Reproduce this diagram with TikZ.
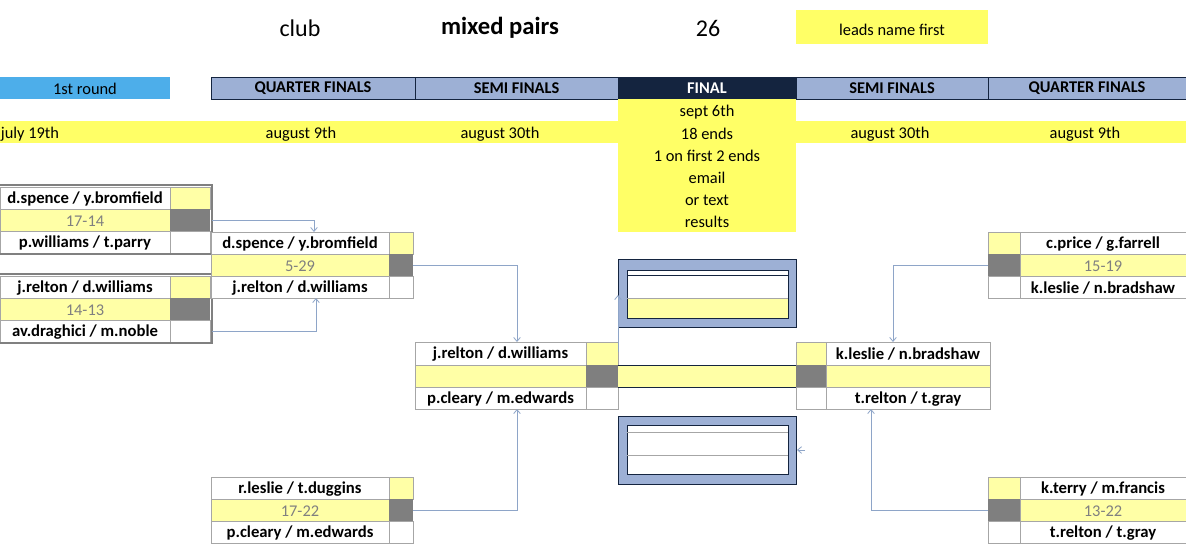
\documentclass[tikz,border=0pt]{standalone}
\usepackage{fontspec}
\setmainfont{Carlito}
\usetikzlibrary{arrows.meta,calc}
\definecolor{ylw}{HTML}{FFFFA6}
\definecolor{bylw}{HTML}{FFFF66}
\definecolor{hdr}{HTML}{9DB0D5}
\definecolor{navy}{HTML}{14243F}
\definecolor{sky}{HTML}{4DAEEA}
\definecolor{dgray}{HTML}{7F7F7F}
\definecolor{conn}{HTML}{8EA5C8}
\newcommand{\nm}{\fontsize{12.5}{14}\selectfont\bfseries}
\newcommand{\tx}{\fontsize{12.3}{14}\selectfont}
\newcommand{\cel}[7]{\path[fill=#6,draw=gray!70,line width=0.5pt] (#2,#3) rectangle (#4,#5);
 \node[font=\nm,inner sep=0] (#1) at ($(#2,#3)!0.5!(#4,#5)+(0,1)$) {#7};}
\begin{document}
\begin{tikzpicture}[x=0.75pt,y=-0.75pt,
 hd/.style={font=\tx\bfseries,inner sep=0},
 sc/.style={font=\tx,text=gray},
 cn/.style={draw=conn,line width=0.6pt},
 ar/.style={cn,-{Straight Barb[length=3pt,width=5pt]}}]
\useasboundingbox (0,0) rectangle (1186,544);
\fill[white] (0,0) rectangle (1186,544);
% title
\node[font=\fontsize{18}{20}\selectfont] (club) at (300,28) {club};
\node[font=\fontsize{18.5}{20}\selectfont\bfseries] (mp) at (500,28) {mixed pairs};
\node[font=\fontsize{18}{20}\selectfont] (num) at (708,28) {26};
\fill[bylw] (796,10) rectangle (988,44);
\node[font=\tx] (lead) at (892,30) {leads name first};
% header row
\fill[sky] (0,77) rectangle (170,99);
\node[font=\tx] (r1) at (85,89) {1st round};
\foreach \a/\b/\t/\n in {211/415/QUARTER FINALS/h1,415/618/SEMI FINALS/h2,796/988/SEMI FINALS/h4,988/1186/QUARTER FINALS/h5}{
 \path[fill=hdr,draw=navy,line width=0.5pt] (\a,77) rectangle (\b,99);
 \node[hd] (\n) at ({(\a+\b)/2},88) {\t};}
\path[fill=navy,draw=navy] (618,77) rectangle (796,99);
\node[hd,text=white] (h3) at (707,88) {FINAL};
% dates
\fill[bylw] (0,121) rectangle (1186,143);
\fill[bylw] (618,99) rectangle (796,232);
\foreach \x/\t/\n in {30/july 19th/d1,301/august 9th/d2,500/august 30th/d3,890/august 30th/d4,1085/august 9th/d5}
 \node[font=\tx] (\n) at (\x,134) {\t};
\foreach \y/\t [count=\i] in {112/sept 6th,134/18 ends,156/1 on first 2 ends,178/email,200/or text,222/results}
 \node[font=\tx] (f\i) at (707,\y) {\t};
% left round 1
\cel{a1}{0}{187}{170}{209}{white}{d.spence / y.bromfield}
\path[fill=ylw,draw=gray!70] (170,187) rectangle (210,209);
\path[fill=ylw,draw=gray!70] (0,209) rectangle (170,231);
\node[sc] (as) at (85,221) {17-14};
\path[fill=dgray] (170,209) rectangle (210,231);
\cel{a2}{0}{231}{170}{253}{white}{p.williams / t.parry}
\path[draw=gray!70] (170,231) rectangle (210,253);
\draw[gray,line width=0.8pt] (0,185) -- (212,185) -- (212,254) -- (0,254);
\cel{b1}{0}{276}{170}{298}{white}{j.relton / d.williams}
\path[fill=ylw,draw=gray!70] (170,276) rectangle (210,298);
\path[fill=ylw,draw=gray!70] (0,298) rectangle (170,320);
\node[sc] (bs) at (85,310) {14-13};
\path[fill=dgray] (170,298) rectangle (210,320);
\cel{b2}{0}{320}{170}{342}{white}{av.draghici / m.noble}
\path[draw=gray!70] (170,320) rectangle (210,342);
\draw[gray,line width=0.8pt] (0,274) -- (212,274) -- (212,343) -- (0,343);
% QF left top
\cel{c1}{211}{232}{389}{254}{white}{d.spence / y.bromfield}
\path[fill=ylw,draw=gray!70] (389,232) rectangle (413,254);
\path[fill=ylw,draw=gray!70] (211,254) rectangle (389,276);
\node[sc] (cs) at (300,266) {5-29};
\path[fill=dgray] (389,254) rectangle (413,276);
\cel{c2}{211}{276}{389}{298}{white}{j.relton / d.williams}
\path[draw=gray!70] (389,276) rectangle (413,298);
% QF left bottom
\cel{e1}{211}{477}{389}{499}{white}{r.leslie / t.duggins}
\path[fill=ylw,draw=gray!70] (389,477) rectangle (413,499);
\path[fill=ylw,draw=gray!70] (211,499) rectangle (389,521);
\node[sc] (es) at (300,511) {17-22};
\path[fill=dgray] (389,499) rectangle (413,521);
\cel{e2}{211}{521}{389}{543}{white}{p.cleary / m.edwards}
\path[draw=gray!70] (389,521) rectangle (413,543);
% SF left
\cel{g1}{415}{342}{586}{365}{white}{j.relton / d.williams}
\path[fill=ylw,draw=gray!70] (586,342) rectangle (618,365);
\path[fill=ylw,draw=gray!70] (415,365) rectangle (586,387);
\path[fill=dgray] (586,365) rectangle (618,387);
\cel{g2}{415}{387}{586}{409}{white}{p.cleary / m.edwards}
\path[draw=gray!70] (586,387) rectangle (618,409);
% final stripe
\fill[ylw] (618,365) rectangle (796,387);
\draw[navy,line width=0.6pt] (618,365) -- (796,365) (618,387) -- (796,387);
% SF right
\path[fill=ylw,draw=gray!70] (796,342) rectangle (826,365);
\cel{h1r}{826}{342}{990}{365}{white}{k.leslie / n.bradshaw}
\path[fill=dgray] (796,365) rectangle (826,387);
\path[fill=ylw,draw=gray!70] (826,365) rectangle (990,387);
\path[draw=gray!70] (796,387) rectangle (826,409);
\cel{h2r}{826}{387}{990}{409}{white}{t.relton / t.gray}
% QF right top
\path[fill=ylw,draw=gray!70] (988,232) rectangle (1020,254);
\cel{i1}{1020}{232}{1186}{254}{white}{c.price / g.farrell}
\path[fill=dgray] (988,254) rectangle (1020,276);
\path[fill=ylw,draw=gray!70] (1020,254) rectangle (1186,276);
\node[sc] (is) at (1103,266) {15-19};
\path[draw=gray!70] (988,276) rectangle (1020,298);
\cel{i2}{1020}{276}{1186}{298}{white}{k.leslie / n.bradshaw}
% QF right bottom
\path[fill=ylw,draw=gray!70] (988,477) rectangle (1020,499);
\cel{j1}{1020}{477}{1186}{499}{white}{k.terry / m.francis}
\path[fill=dgray] (988,499) rectangle (1020,521);
\path[fill=ylw,draw=gray!70] (1020,499) rectangle (1186,521);
\node[sc] (js) at (1103,511) {13-22};
\path[draw=gray!70] (988,521) rectangle (1020,543);
\cel{j2}{1020}{521}{1186}{543}{white}{t.relton / t.gray}
% final boxes
\path[fill=hdr,draw=navy,line width=0.6pt] (618,259) rectangle (796,327);
\path[fill=white,draw=navy,line width=0.6pt] (627,270) rectangle (788,318);
\fill[ylw] (627,298) rectangle (788,318);
\draw[navy,line width=0.5pt] (627,270) rectangle (788,318) (627,275) -- (788,275);
\draw[gray!70] (627,298) -- (788,298);
\path[fill=hdr,draw=navy,line width=0.6pt] (618,416) rectangle (796,484);
\path[fill=white,draw=navy,line width=0.6pt] (627,425) rectangle (788,474);
\draw[gray!70] (627,432) -- (788,432) (627,455) -- (788,455);
% connectors
\coordinate (k1) at (212,220); \coordinate (k2) at (212,331);
\coordinate (k3) at (413,265); \coordinate (k4) at (413,510);
\coordinate (k5) at (988,265); \coordinate (k6) at (988,510);
\coordinate (k7) at (618,352); \coordinate (k8) at (618,295);
\coordinate (k9) at (805,450); \coordinate (k10) at (797,450);
\draw[ar] (k1) -| (314,232);
\draw[ar] (k2) -| (316,298);
\draw[ar] (k3) -| (517,342);
\draw[ar] (k4) -| (517,409);
\draw[ar] (k5) -| (893,342);
\draw[ar] (k6) -| (871,409);
\draw[ar] (k7) -- (k8);
\draw[ar] (k9) -- (k10);
\end{tikzpicture}
\end{document}
